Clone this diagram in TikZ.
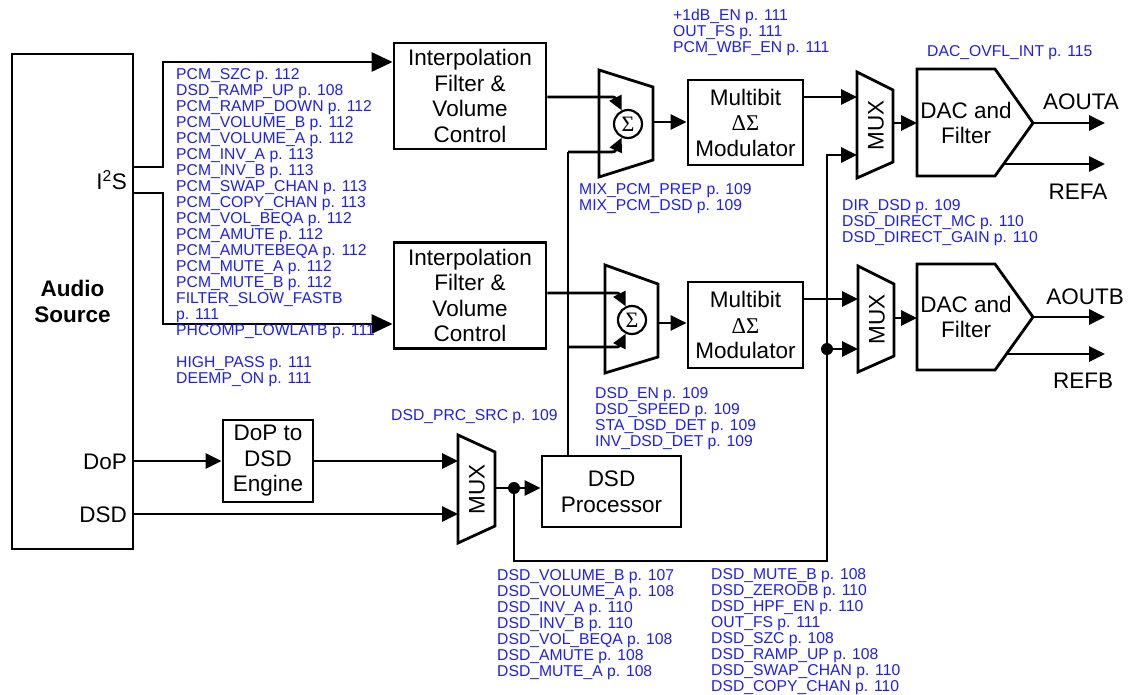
\documentclass[tikz,border=0pt]{standalone}
\usepackage{fontspec}
\setmainfont{Liberation Sans}
\newfontfamily\serifgr{Liberation Serif}
\usetikzlibrary{arrows.meta}
\definecolor{lblue}{RGB}{30,30,240}
\begin{document}
\begin{tikzpicture}[x=1pt,y=-1pt,
  box/.style={draw, line width=2.8pt, inner sep=0pt, align=center, font=\fontsize{22.5}{25.5}\selectfont},
  shp/.style={draw, line width=2.8pt, line join=miter},
  wire/.style={line width=2.8pt},
  arr/.style={wire, -{Triangle[length=16pt,width=15pt]}},
  bigarr/.style={wire, -{Triangle[length=21pt,width=19pt]}},
  sarr/.style={wire, -{Triangle[length=14pt,width=13pt]}},
  lbl/.style={anchor=north west, inner sep=0pt, align=left, text=lblue, font=\fontsize{15.7}{16}\selectfont},
  txt/.style={inner sep=0pt, align=center, font=\fontsize{22.5}{25.5}\selectfont},
  sig/.style={circle, draw, line width=2.2pt, minimum size=28pt, inner sep=0pt, font=\serifgr\fontsize{22}{22}\selectfont},
  dot/.style={circle, fill, inner sep=0pt, minimum size=12pt},
]
\useasboundingbox (0,0) rectangle (1128,694);

% ---------- blocks ----------
\node[box, minimum width=121pt, minimum height=495pt, font=\fontsize{22.5}{25.5}\selectfont\bfseries] (src) at (72.5,301.5) {Audio\\Source};
\node[txt, anchor=east] (i2s) at (127,180) {I\textsuperscript{2}S};
\node[txt, anchor=east] (dopl) at (127,462) {DoP};
\node[txt, anchor=east] (dsdl) at (127,515) {DSD};

\node[box, minimum width=152pt, minimum height=106pt] (ip1) at (470,96) {Interpolation\\Filter \&\\Volume\\Control};
\node[box, minimum width=152pt, minimum height=106pt] (ip2) at (470,295.5) {Interpolation\\Filter \&\\Volume\\Control};

\node[box, minimum width=115pt, minimum height=85pt] (mb1) at (745.5,122.5) {Multibit\\{\serifgr ΔΣ}\\Modulator};
\node[box, minimum width=115pt, minimum height=86pt] (mb2) at (745.5,325) {Multibit\\{\serifgr ΔΣ}\\Modulator};

\node[box, minimum width=90pt, minimum height=82pt] (dop) at (268,461) {DoP to\\DSD\\Engine};
\node[box, minimum width=139pt, minimum height=71pt] (dsp) at (611.5,491.5) {DSD\\Processor};

% mixers
\draw[shp] (599,70) -- (653,87) -- (653,160) -- (599,177) -- cycle;
\node[sig] (sig1) at (628,124) {Σ};
\draw[shp] (605,265) -- (658,284) -- (658,357) -- (605,373) -- cycle;
\node[sig] (sig2) at (632,320) {Σ};

% output muxes
\draw[shp] (857,72) -- (893,90) -- (893,162) -- (857,178) -- cycle;
\node[txt, rotate=90] (mux1t) at (876,125) {MUX};
\draw[shp] (858,266) -- (894,284) -- (894,356) -- (858,372) -- cycle;
\node[txt, rotate=90] (mux2t) at (877,319) {MUX};

% DSD mux
\draw[shp] (458,435) -- (495,452) -- (495,526) -- (458,543) -- cycle;
\node[txt, rotate=90] (dmuxt) at (477,489) {MUX};

% DACs
\draw[shp] (917,69) -- (995,69) -- (1033,123) -- (995,176) -- (917,176) -- cycle;
\node[txt] (dac1t) at (966,123) {DAC and\\Filter};
\draw[shp] (917,264) -- (995,264) -- (1033,317) -- (995,370) -- (917,370) -- cycle;
\node[txt] (dac2t) at (966,317) {DAC and\\Filter};

\node[txt] (aouta) at (1081,102) {AOUTA};
\node[txt] (refa) at (1078,192) {REFA};
\node[txt] (aoutb) at (1085,297) {AOUTB};
\node[txt] (refb) at (1083,381) {REFB};

% ports
\coordinate (mx1o) at (653,122);
\coordinate (mx2o) at (658,323);
\coordinate (mux1a) at (857,97);
\coordinate (mux1b) at (857,155);
\coordinate (mux1o) at (893,123);
\coordinate (mux2a) at (858,299);
\coordinate (mux2b) at (858,349);
\coordinate (mux2o) at (894,318);
\coordinate (dac1i) at (917,123);
\coordinate (dac2i) at (917,318);
\coordinate (dac1o) at (1033,123);
\coordinate (dac1r) at (1004,164);
\coordinate (dac2o) at (1033,317);
\coordinate (dac2r) at (1006,354);
\coordinate (outa) at (1105,123);
\coordinate (outra) at (1105,164);
\coordinate (outb) at (1105,317);
\coordinate (outrb) at (1105,354);
\coordinate (dmuxa) at (458,461);
\coordinate (dmuxb) at (458,514);
\coordinate (dmuxo) at (495,488);
\node[dot] (dot1) at (514,488) {};
\node[dot] (dot2) at (827,349) {};

% ---------- connectors ----------
\draw[bigarr] (src.east |- 0,167) -| (163,62) -- (ip1.west |- 0,62);
\draw[bigarr] (src.east |- 0,193) -| (163,324) -- (ip2.west |- 0,324);

\draw[sarr] (ip1.east |- 0,97) -- (607,97) .. controls (615,97) .. (sig1.115);
\draw[sarr] (ip2.east |- 0,293) -- (611,293) .. controls (619,293) .. (sig2.115);
\draw[wire] (dsp.north -| 568,0) -- (568,152);
\draw[sarr] (568,152) -- (607,152) .. controls (615,152) .. (sig1.-115);
\draw[sarr] (568,347) -- (611,347) .. controls (619,347) .. (sig2.-115);

\draw[arr] (mx1o) -- (mb1.west |- mx1o);
\draw[arr] (mx2o) -- (mb2.west |- mx2o);
\draw[arr] (mb1.east |- mux1a) -- (mux1a);
\draw[arr] (mb2.east |- mux2a) -- (mux2a);
\draw[arr] (mux1o) -- (dac1i);
\draw[arr] (mux2o) -- (dac2i);
\draw[arr] (dac1o) -- (outa);
\draw[arr] (dac1r) -- (outra);
\draw[arr] (dac2o) -- (outb);
\draw[arr] (dac2r) -- (outrb);

\draw[arr] (src.east |- dmuxa) -- (dop.west |- dmuxa);
\draw[arr] (dop.east |- dmuxa) -- (dmuxa);
\draw[arr] (src.east |- dmuxb) -- (dmuxb);
\draw[arr] (dmuxo) -- (dsp.west |- dmuxo);
\draw[arr] (dot1) |- (827,561) -- (827,155) -- (mux1b);
\draw[arr] (dot2) -- (mux2b);

% ---------- register labels ----------
\node[lbl] (l1) at (176,68) {PCM\_SZC p. 112\\DSD\_RAMP\_UP p. 108\\PCM\_RAMP\_DOWN p. 112\\PCM\_VOLUME\_B p. 112\\PCM\_VOLUME\_A p. 112\\PCM\_INV\_A p. 113\\PCM\_INV\_B p. 113\\PCM\_SWAP\_CHAN p. 113\\PCM\_COPY\_CHAN p. 113\\PCM\_VOL\_BEQA p. 112\\PCM\_AMUTE p. 112\\PCM\_AMUTEBEQA p. 112\\PCM\_MUTE\_A p. 112\\PCM\_MUTE\_B p. 112\\FILTER\_SLOW\_FASTB\\p. 111\\PHCOMP\_LOWLATB p. 111};
\node[lbl] (l2) at (176,356) {HIGH\_PASS p. 111\\DEEMP\_ON p. 111};
\node[lbl] (l3) at (673,9) {+1dB\_EN p. 111\\OUT\_FS p. 111\\PCM\_WBF\_EN p. 111};
\node[lbl] (l4) at (927,45) {DAC\_OVFL\_INT p. 115};
\node[lbl] (l5) at (579,183) {MIX\_PCM\_PREP p. 109\\MIX\_PCM\_DSD p. 109};
\node[lbl] (l6) at (842,199) {DIR\_DSD p. 109\\DSD\_DIRECT\_MC p. 110\\DSD\_DIRECT\_GAIN p. 110};
\node[lbl] (l7) at (595,387) {DSD\_EN p. 109\\DSD\_SPEED p. 109\\STA\_DSD\_DET p. 109\\INV\_DSD\_DET p. 109};
\node[lbl] (l8) at (391,409) {DSD\_PRC\_SRC p. 109};
\node[lbl] (l9) at (497,569) {DSD\_VOLUME\_B p. 107\\DSD\_VOLUME\_A p. 108\\DSD\_INV\_A p. 110\\DSD\_INV\_B p. 110\\DSD\_VOL\_BEQA p. 108\\DSD\_AMUTE p. 108\\DSD\_MUTE\_A p. 108};
\node[lbl] (l10) at (711,568) {DSD\_MUTE\_B p. 108\\DSD\_ZERODB p. 110\\DSD\_HPF\_EN p. 110\\OUT\_FS p. 111\\DSD\_SZC p. 108\\DSD\_RAMP\_UP p. 108\\DSD\_SWAP\_CHAN p. 110\\DSD\_COPY\_CHAN p. 110};
\end{tikzpicture}
\end{document}
